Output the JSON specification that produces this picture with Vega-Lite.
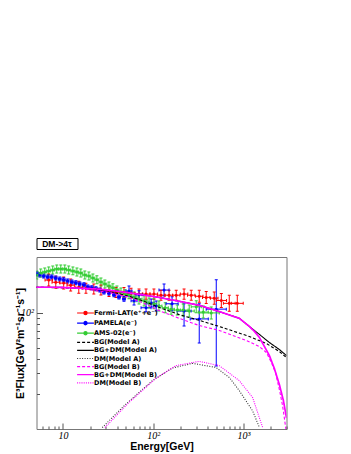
{
"$schema":"https://vega.github.io/schema/vega-lite/v6.json",
"padding":{"left":14.5,"top":237,"right":4,"bottom":4},
"background":"white",
"align":"none",
"spacing":6,
"config":{
  "font":"Liberation Sans",
  "axis":{"grid":false,"domain":false,"tickColor":"#555","tickWidth":1,"labelFont":"Liberation Serif","labelFontStyle":"italic","labelFontSize":10,"labelColor":"#000","titleFont":"Liberation Sans","titleFontWeight":"bold","titleColor":"#000","titleFontSize":10.5,"labelOverlap":false,"labelFlush":false}
},
"datasets":{
"exp":[
{"s":"Fermi-LAT(e⁺+e⁻)","E":6.97,"F":190,"El":6.34,"Eh":7.67,"Fl":168.7,"Fh":213.9},
{"s":"Fermi-LAT(e⁺+e⁻)","E":8.34,"F":182,"El":7.58,"Eh":9.17,"Fl":161.6,"Fh":204.9},
{"s":"Fermi-LAT(e⁺+e⁻)","E":10.2,"F":179,"El":9.27,"Eh":11.2,"Fl":159,"Fh":201.6},
{"s":"Fermi-LAT(e⁺+e⁻)","E":12.2,"F":172,"El":11.1,"Eh":13.4,"Fl":152.8,"Fh":193.7},
{"s":"Fermi-LAT(e⁺+e⁻)","E":15.0,"F":165,"El":13.6,"Eh":16.5,"Fl":146.5,"Fh":185.8},
{"s":"Fermi-LAT(e⁺+e⁻)","E":18.0,"F":162,"El":16.4,"Eh":19.8,"Fl":146.7,"Fh":178.8},
{"s":"Fermi-LAT(e⁺+e⁻)","E":22.0,"F":159,"El":20.0,"Eh":24.2,"Fl":144,"Fh":175.5},
{"s":"Fermi-LAT(e⁺+e⁻)","E":26.4,"F":156,"El":24.0,"Eh":29.0,"Fl":141.3,"Fh":172.2},
{"s":"Fermi-LAT(e⁺+e⁻)","E":32.4,"F":152,"El":29.5,"Eh":35.6,"Fl":137.7,"Fh":167.8},
{"s":"Fermi-LAT(e⁺+e⁻)","E":38.7,"F":149,"El":35.2,"Eh":42.6,"Fl":135,"Fh":164.5},
{"s":"Fermi-LAT(e⁺+e⁻)","E":47.5,"F":149,"El":43.2,"Eh":52.3,"Fl":135,"Fh":164.5},
{"s":"Fermi-LAT(e⁺+e⁻)","E":56.9,"F":146.5,"El":51.7,"Eh":62.6,"Fl":132.7,"Fh":161.7},
{"s":"Fermi-LAT(e⁺+e⁻)","E":69.7,"F":144,"El":63.4,"Eh":76.7,"Fl":130.4,"Fh":159},
{"s":"Fermi-LAT(e⁺+e⁻)","E":83.4,"F":144,"El":75.8,"Eh":91.7,"Fl":130.4,"Fh":159},
{"s":"Fermi-LAT(e⁺+e⁻)","E":102,"F":144,"El":92.7,"Eh":112,"Fl":130.4,"Fh":159},
{"s":"Fermi-LAT(e⁺+e⁻)","E":122,"F":141,"El":111,"Eh":134,"Fl":127.7,"Fh":155.7},
{"s":"Fermi-LAT(e⁺+e⁻)","E":150,"F":141,"El":136,"Eh":165,"Fl":127.7,"Fh":155.7},
{"s":"Fermi-LAT(e⁺+e⁻)","E":180,"F":141,"El":164,"Eh":198,"Fl":127.7,"Fh":155.7},
{"s":"Fermi-LAT(e⁺+e⁻)","E":220,"F":144,"El":200,"Eh":242,"Fl":130.4,"Fh":159},
{"s":"Fermi-LAT(e⁺+e⁻)","E":264,"F":141,"El":240,"Eh":290,"Fl":127.7,"Fh":155.7},
{"s":"Fermi-LAT(e⁺+e⁻)","E":324,"F":138,"El":295,"Eh":356,"Fl":122.6,"Fh":155.4},
{"s":"Fermi-LAT(e⁺+e⁻)","E":387,"F":135,"El":352,"Eh":426,"Fl":119.9,"Fh":152},
{"s":"Fermi-LAT(e⁺+e⁻)","E":475,"F":133,"El":432,"Eh":523,"Fl":118.1,"Fh":149.8},
{"s":"Fermi-LAT(e⁺+e⁻)","E":569,"F":127,"El":500,"Eh":650,"Fl":110.5,"Fh":145.9},
{"s":"Fermi-LAT(e⁺+e⁻)","E":697,"F":120,"El":600,"Eh":810,"Fl":102.4,"Fh":140.6},
{"s":"Fermi-LAT(e⁺+e⁻)","E":855,"F":120,"El":735,"Eh":995,"Fl":102.4,"Fh":140.6},
{"s":"PAMELA(e⁻)","E":5.13,"F":215,"El":4.96,"Eh":5.31,"Fl":206.7,"Fh":223.6},
{"s":"PAMELA(e⁻)","E":5.54,"F":210,"El":5.35,"Eh":5.73,"Fl":201.9,"Fh":218.4},
{"s":"PAMELA(e⁻)","E":6.13,"F":206,"El":5.92,"Eh":6.34,"Fl":198.1,"Fh":214.2},
{"s":"PAMELA(e⁻)","E":6.80,"F":202,"El":6.57,"Eh":7.04,"Fl":194.2,"Fh":210.1},
{"s":"PAMELA(e⁻)","E":7.53,"F":202,"El":7.28,"Eh":7.79,"Fl":194.2,"Fh":210.1},
{"s":"PAMELA(e⁻)","E":8.34,"F":198,"El":8.06,"Eh":8.63,"Fl":190.4,"Fh":205.9},
{"s":"PAMELA(e⁻)","E":9.24,"F":194,"El":8.93,"Eh":9.56,"Fl":186.5,"Fh":201.8},
{"s":"PAMELA(e⁻)","E":10.2,"F":191,"El":9.86,"Eh":10.6,"Fl":183.7,"Fh":198.6},
{"s":"PAMELA(e⁻)","E":11.3,"F":187,"El":10.9,"Eh":11.7,"Fl":179.8,"Fh":194.5},
{"s":"PAMELA(e⁻)","E":12.6,"F":183,"El":12.2,"Eh":13.0,"Fl":176,"Fh":190.3},
{"s":"PAMELA(e⁻)","E":13.9,"F":180,"El":13.4,"Eh":14.4,"Fl":173.1,"Fh":187.2},
{"s":"PAMELA(e⁻)","E":15.4,"F":176,"El":14.9,"Eh":15.9,"Fl":169.2,"Fh":183},
{"s":"PAMELA(e⁻)","E":17.1,"F":173,"El":16.5,"Eh":17.7,"Fl":166.3,"Fh":179.9},
{"s":"PAMELA(e⁻)","E":18.9,"F":166,"El":18.3,"Eh":19.6,"Fl":159.6,"Fh":172.6},
{"s":"PAMELA(e⁻)","E":20.9,"F":163,"El":20.2,"Eh":21.6,"Fl":156.7,"Fh":169.5},
{"s":"PAMELA(e⁻)","E":23.2,"F":160,"El":22.4,"Eh":24.0,"Fl":153.8,"Fh":166.4},
{"s":"PAMELA(e⁻)","E":25.7,"F":156,"El":24.8,"Eh":26.6,"Fl":150,"Fh":162.2},
{"s":"PAMELA(e⁻)","E":28.5,"F":150,"El":27.5,"Eh":29.5,"Fl":144.2,"Fh":156},
{"s":"PAMELA(e⁻)","E":32.4,"F":147,"El":31.3,"Eh":33.5,"Fl":141.3,"Fh":152.9},
{"s":"PAMELA(e⁻)","E":36.8,"F":142,"El":35.6,"Eh":38.1,"Fl":136.5,"Fh":147.7},
{"s":"PAMELA(e⁻)","E":41.8,"F":136,"El":40.4,"Eh":43.3,"Fl":130.8,"Fh":141.4},
{"s":"PAMELA(e⁻)","E":47.5,"F":131,"El":45.9,"Eh":49.2,"Fl":125,"Fh":137.3},
{"s":"PAMELA(e⁻)","E":54.0,"F":153,"El":50.0,"Eh":58.3,"Fl":138.6,"Fh":168.9},
{"s":"PAMELA(e⁻)","E":61.4,"F":126,"El":56.9,"Eh":66.3,"Fl":116.3,"Fh":136.5},
{"s":"PAMELA(e⁻)","E":69.7,"F":142,"El":64.5,"Eh":75.3,"Fl":131.1,"Fh":153.8},
{"s":"PAMELA(e⁻)","E":83.4,"F":110,"El":73.4,"Eh":94.8,"Fl":101.6,"Fh":119.1},
{"s":"PAMELA(e⁻)","E":94.9,"F":121,"El":87.9,"Eh":102.5,"Fl":111.7,"Fh":131},
{"s":"PAMELA(e⁻)","E":108,"F":114,"El":100,"Eh":116.6,"Fl":103.3,"Fh":125.9},
{"s":"PAMELA(e⁻)","E":132,"F":156,"El":116,"Eh":150,"Fl":138.5,"Fh":175.7},
{"s":"PAMELA(e⁻)","E":162,"F":119,"El":139,"Eh":189,"Fl":103.7,"Fh":136.6},
{"s":"PAMELA(e⁻)","E":220,"F":103,"El":184,"Eh":263,"Fl":76.7,"Fh":119},
{"s":"PAMELA(e⁻)","E":324,"F":88.2,"El":257,"Eh":408,"Fl":54.8,"Fh":119},
{"s":"PAMELA(e⁻)","E":500,"F":107,"El":387,"Eh":646,"Fl":34.8,"Fh":191},
{"s":"AMS-02(e⁻)","E":5.13,"F":210,"El":4.88,"Eh":5.40,"Fl":194.1,"Fh":227.2},
{"s":"AMS-02(e⁻)","E":5.68,"F":219,"El":5.40,"Eh":5.98,"Fl":202.4,"Fh":237},
{"s":"AMS-02(e⁻)","E":6.30,"F":223,"El":5.99,"Eh":6.63,"Fl":206.1,"Fh":241.3},
{"s":"AMS-02(e⁻)","E":6.97,"F":228,"El":6.63,"Eh":7.33,"Fl":210.7,"Fh":246.7},
{"s":"AMS-02(e⁻)","E":7.72,"F":232,"El":7.34,"Eh":8.12,"Fl":214.4,"Fh":251},
{"s":"AMS-02(e⁻)","E":8.55,"F":237,"El":8.13,"Eh":8.99,"Fl":219,"Fh":256.4},
{"s":"AMS-02(e⁻)","E":9.48,"F":237,"El":9.01,"Eh":9.97,"Fl":219,"Fh":256.4},
{"s":"AMS-02(e⁻)","E":10.5,"F":237,"El":9.98,"Eh":11.0,"Fl":219,"Fh":256.4},
{"s":"AMS-02(e⁻)","E":11.6,"F":232,"El":11.0,"Eh":12.2,"Fl":214.4,"Fh":251},
{"s":"AMS-02(e⁻)","E":12.9,"F":228,"El":12.3,"Eh":13.6,"Fl":210.7,"Fh":246.7},
{"s":"AMS-02(e⁻)","E":14.3,"F":223,"El":13.6,"Eh":15.0,"Fl":206.1,"Fh":241.3},
{"s":"AMS-02(e⁻)","E":15.8,"F":219,"El":15.0,"Eh":16.6,"Fl":202.4,"Fh":237},
{"s":"AMS-02(e⁻)","E":17.5,"F":210,"El":16.6,"Eh":18.4,"Fl":194.1,"Fh":227.2},
{"s":"AMS-02(e⁻)","E":19.4,"F":206,"El":18.4,"Eh":20.4,"Fl":190.4,"Fh":222.9},
{"s":"AMS-02(e⁻)","E":21.5,"F":198,"El":20.4,"Eh":22.6,"Fl":183,"Fh":214.2},
{"s":"AMS-02(e⁻)","E":23.8,"F":191,"El":22.6,"Eh":25.0,"Fl":176.5,"Fh":206.7},
{"s":"AMS-02(e⁻)","E":26.4,"F":183,"El":25.1,"Eh":27.8,"Fl":169.1,"Fh":198},
{"s":"AMS-02(e⁻)","E":29.2,"F":176,"El":27.8,"Eh":30.7,"Fl":162.7,"Fh":190.4},
{"s":"AMS-02(e⁻)","E":32.4,"F":169,"El":30.8,"Eh":34.1,"Fl":156.2,"Fh":182.9},
{"s":"AMS-02(e⁻)","E":35.8,"F":163,"El":34.0,"Eh":37.7,"Fl":150.6,"Fh":176.4},
{"s":"AMS-02(e⁻)","E":39.7,"F":156,"El":37.7,"Eh":41.8,"Fl":144.2,"Fh":168.8},
{"s":"AMS-02(e⁻)","E":44.0,"F":150,"El":41.8,"Eh":46.3,"Fl":138.6,"Fh":162.3},
{"s":"AMS-02(e⁻)","E":48.7,"F":145,"El":46.3,"Eh":51.2,"Fl":134,"Fh":156.9},
{"s":"AMS-02(e⁻)","E":54.0,"F":142,"El":50.0,"Eh":58.3,"Fl":131.2,"Fh":153.6},
{"s":"AMS-02(e⁻)","E":61.4,"F":136,"El":56.9,"Eh":66.3,"Fl":123.2,"Fh":150.1},
{"s":"AMS-02(e⁻)","E":69.7,"F":131,"El":64.5,"Eh":75.3,"Fl":118.7,"Fh":144.6},
{"s":"AMS-02(e⁻)","E":79.3,"F":126,"El":73.4,"Eh":85.6,"Fl":114.1,"Fh":139.1},
{"s":"AMS-02(e⁻)","E":90.1,"F":121,"El":83.4,"Eh":97.3,"Fl":109.6,"Fh":133.6},
{"s":"AMS-02(e⁻)","E":102,"F":119,"El":94.4,"Eh":110,"Fl":107.8,"Fh":131.4},
{"s":"AMS-02(e⁻)","E":116,"F":114,"El":107,"Eh":125,"Fl":103.3,"Fh":125.9},
{"s":"AMS-02(e⁻)","E":136,"F":110,"El":126,"Eh":147,"Fl":99.6,"Fh":121.4},
{"s":"AMS-02(e⁻)","E":158,"F":107,"El":146,"Eh":171,"Fl":96.9,"Fh":118.1},
{"s":"AMS-02(e⁻)","E":185,"F":105,"El":171,"Eh":200,"Fl":95.1,"Fh":115.9},
{"s":"AMS-02(e⁻)","E":215,"F":105,"El":189,"Eh":244,"Fl":93.3,"Fh":118.2},
{"s":"AMS-02(e⁻)","E":251,"F":103,"El":221,"Eh":285,"Fl":91.5,"Fh":116},
{"s":"AMS-02(e⁻)","E":300,"F":112,"El":264,"Eh":341,"Fl":99.5,"Fh":126.1},
{"s":"AMS-02(e⁻)","E":359,"F":101,"El":316,"Eh":408,"Fl":89.7,"Fh":113.7},
{"s":"AMS-02(e⁻)","E":440,"F":99.3,"El":324,"Eh":540,"Fl":88.2,"Fh":111.8}
],
"model":[
{"s":"BG+DM(Model A)","E":5,"F":165},{"s":"BG+DM(Model A)","E":9,"F":165},{"s":"BG+DM(Model A)","E":15,"F":162},{"s":"BG+DM(Model A)","E":25,"F":159},{"s":"BG+DM(Model A)","E":41.8,"F":152},{"s":"BG+DM(Model A)","E":69.7,"F":143.5},{"s":"BG+DM(Model A)","E":116,"F":135},{"s":"BG+DM(Model A)","E":194,"F":125},{"s":"BG+DM(Model A)","E":324,"F":115.4},{"s":"BG+DM(Model A)","E":540,"F":102},{"s":"BG+DM(Model A)","E":901,"F":89.2},{"s":"BG+DM(Model A)","E":1163,"F":76},{"s":"BG+DM(Model A)","E":1503,"F":64.9},{"s":"BG+DM(Model A)","E":1941,"F":55.3},{"s":"BG+DM(Model A)","E":2504,"F":48.1},{"s":"BG+DM(Model A)","E":3000,"F":42.7},
{"s":"BG+DM(Model B)","E":5,"F":165},{"s":"BG+DM(Model B)","E":9,"F":165},{"s":"BG+DM(Model B)","E":15,"F":162},{"s":"BG+DM(Model B)","E":25,"F":159},{"s":"BG+DM(Model B)","E":41.8,"F":152},{"s":"BG+DM(Model B)","E":69.7,"F":143.5},{"s":"BG+DM(Model B)","E":116,"F":135},{"s":"BG+DM(Model B)","E":194,"F":125},{"s":"BG+DM(Model B)","E":324,"F":115.4},{"s":"BG+DM(Model B)","E":540,"F":102},{"s":"BG+DM(Model B)","E":901,"F":89.2},{"s":"BG+DM(Model B)","E":1163,"F":76},{"s":"BG+DM(Model B)","E":1322,"F":68.9},{"s":"BG+DM(Model B)","E":1503,"F":61.1},{"s":"BG+DM(Model B)","E":1708,"F":51.1},{"s":"BG+DM(Model B)","E":1941,"F":42.7},{"s":"BG+DM(Model B)","E":2203,"F":33},{"s":"BG+DM(Model B)","E":2504,"F":24},{"s":"BG+DM(Model B)","E":2775,"F":17.5},{"s":"BG+DM(Model B)","E":3000,"F":12.4},
{"s":"BG(Model A)","E":5,"F":165},{"s":"BG(Model A)","E":15,"F":162},{"s":"BG(Model A)","E":32.4,"F":152},{"s":"BG(Model A)","E":54,"F":138},{"s":"BG(Model A)","E":79.3,"F":125},{"s":"BG(Model A)","E":116,"F":111},{"s":"BG(Model A)","E":194,"F":96},{"s":"BG(Model A)","E":324,"F":85.7},{"s":"BG(Model A)","E":540,"F":76},{"s":"BG(Model A)","E":1163,"F":62.3},{"s":"BG(Model A)","E":1798,"F":54.2},{"s":"BG(Model A)","E":2504,"F":46.2},{"s":"BG(Model A)","E":3000,"F":41},
{"s":"BG(Model B)","E":5,"F":165},{"s":"BG(Model B)","E":15,"F":162},{"s":"BG(Model B)","E":32.4,"F":149},{"s":"BG(Model B)","E":54,"F":135},{"s":"BG(Model B)","E":79.3,"F":120},{"s":"BG(Model B)","E":116,"F":104},{"s":"BG(Model B)","E":194,"F":89.2},{"s":"BG(Model B)","E":324,"F":77.4},{"s":"BG(Model B)","E":540,"F":70.2},{"s":"BG(Model B)","E":1077,"F":57.5},{"s":"BG(Model B)","E":1503,"F":51.1},{"s":"BG(Model B)","E":1798,"F":45.3},{"s":"BG(Model B)","E":2043,"F":37.2},{"s":"BG(Model B)","E":2265,"F":30.5},{"s":"BG(Model B)","E":2504,"F":21.7},{"s":"BG(Model B)","E":2705,"F":16.1},{"s":"BG(Model B)","E":2849,"F":12.2},{"s":"BG(Model B)","E":3000,"F":9.2},
{"s":"DM(Model A)","E":27.3,"F":10.3},{"s":"DM(Model A)","E":49.7,"F":16.3},{"s":"DM(Model A)","E":97.9,"F":26},{"s":"DM(Model A)","E":163,"F":33.4},{"s":"DM(Model A)","E":273,"F":36.6},{"s":"DM(Model A)","E":497,"F":33.8},{"s":"DM(Model A)","E":697,"F":27.7},{"s":"DM(Model A)","E":901,"F":21.3},{"s":"DM(Model A)","E":1265,"F":14.3},{"s":"DM(Model A)","E":1503,"F":10.3},
{"s":"DM(Model B)","E":29.2,"F":10.3},{"s":"DM(Model B)","E":54,"F":16.9},{"s":"DM(Model B)","E":107,"F":27.2},{"s":"DM(Model B)","E":178,"F":35},{"s":"DM(Model B)","E":324,"F":38.1},{"s":"DM(Model B)","E":540,"F":35},{"s":"DM(Model B)","E":901,"F":26},{"s":"DM(Model B)","E":1265,"F":18.6},{"s":"DM(Model B)","E":1633,"F":10.3}
]
},
"vconcat":[
{"width":41,"height":11,"view":{"stroke":"#000","strokeWidth":1},
 "data":{"values":[{"label":"DM->4τ"}]},
 "mark":{"type":"text","font":"Liberation Sans","fontWeight":"bold","fontSize":8.5,"color":"#000"},
 "encoding":{"text":{"field":"label","type":"nominal"}}},
{"width":250,"height":172,"view":{"stroke":"#777","strokeWidth":1},
 "layer":[
  {"data":{"name":"exp"},"mark":{"type":"point","filled":true,"size":0,"opacity":1,"clip":true},
   "encoding":{
    "x":{"field":"E","type":"quantitative","scale":{"type":"log","domain":[5.1,3000],"nice":false},
         "axis":{"values":[6,7,8,9,10,20,30,40,50,60,70,80,90,100,200,300,400,500,600,700,800,900,1000,2000,3000],
                 "labelExpr":"datum.value==10?'10':datum.value==100?'10²':datum.value==1000?'10³':''",
                 "tickSize":{"condition":{"test":"datum.value==10||datum.value==100||datum.value==1000","value":-6},"value":-3},
                 "labelPadding":7,"title":"Energy[GeV]","titlePadding":-2}},
    "y":{"field":"F","type":"quantitative","scale":{"type":"log","domain":[10,300],"nice":false},
         "axis":{"values":[20,30,40,50,60,70,80,90,100],
                 "labelExpr":"datum.value==100?'10²':''",
                 "tickSize":{"condition":{"test":"datum.value==100","value":-6},"value":-3},
                 "labelPadding":9,"title":"E³Flux[GeV²m⁻¹sr⁻¹s⁻¹]","titlePadding":-4.5}},
    "color":{"field":"s","type":"nominal",
      "scale":{"domain":["Fermi-LAT(e⁺+e⁻)","PAMELA(e⁻)","AMS-02(e⁻)","BG(Model A)","BG+DM(Model A)","DM(Model A)","BG(Model B)","BG+DM(Model B)","DM(Model B)"],"range":["#ff0000","#0000ff","#33cc33","#000000","#000000","#333333","#ff00ff","#ff00ff","#ff00ff"]},
      "legend":{"orient":"none","legendX":45,"legendY":71,"title":null,"padding":0,"labelFont":"DejaVu Sans","labelFontSize":6.5,"labelFontWeight":"bold","labelColor":"#000","labelOffset":4.5,"symbolSize":36,"symbolStrokeWidth":1.2,"rowPadding":0.1,"labelLimit":200,
        "encode":{"symbols":{"update":{"stroke":{"scale":"color","field":"value"},"opacity":{"value":1}}}}}},
    "shape":{"field":"s","type":"nominal","scale":{"domain":["Fermi-LAT(e⁺+e⁻)","PAMELA(e⁻)","AMS-02(e⁻)","BG(Model A)","BG+DM(Model A)","DM(Model A)","BG(Model B)","BG+DM(Model B)","DM(Model B)"],
      "range":["M-2.8,0H2.8M-0.55,0L-0.39,-0.39L0,-0.55L0.39,-0.39L0.55,0L0.39,0.39L0,0.55L-0.39,0.39Z","M-2.8,0H2.8M-0.55,0L-0.39,-0.39L0,-0.55L0.39,-0.39L0.55,0L0.39,0.39L0,0.55L-0.39,0.39Z","M-2.8,0H2.8M-0.55,0L-0.39,-0.39L0,-0.55L0.39,-0.39L0.55,0L0.39,0.39L0,0.55L-0.39,0.39Z","M-2.8,0H2.8","M-2.8,0H2.8","M-2.8,0H2.8","M-2.8,0H2.8","M-2.8,0H2.8","M-2.8,0H2.8"]}},
    "strokeDash":{"field":"s","type":"nominal","scale":{"domain":["Fermi-LAT(e⁺+e⁻)","PAMELA(e⁻)","AMS-02(e⁻)","BG(Model A)","BG+DM(Model A)","DM(Model A)","BG(Model B)","BG+DM(Model B)","DM(Model B)"],"range":[[1,0],[1,0],[1,0],[3,2],[1,0],[1,1.5],[3,2],[1,0],[1,1.2]]}}}},
  {"data":{"name":"exp"},"mark":{"type":"rule","clip":true,"strokeWidth":1},
   "encoding":{
    "x":{"field":"E","type":"quantitative","scale":{"type":"log","domain":[5.1,3000],"nice":false},"title":"Energy[GeV]"},
    "y":{"field":"Fl","type":"quantitative","scale":{"type":"log","domain":[10,300],"nice":false},"title":"E³Flux[GeV²m⁻¹sr⁻¹s⁻¹]"},
    "y2":{"field":"Fh"},
    "color":{"field":"s","type":"nominal"}}},
  {"data":{"name":"exp"},"mark":{"type":"rule","clip":true,"strokeWidth":1},
   "encoding":{
    "x":{"field":"El","type":"quantitative","scale":{"type":"log","domain":[5.1,3000],"nice":false},"title":"Energy[GeV]"},
    "x2":{"field":"Eh"},
    "y":{"field":"F","type":"quantitative","scale":{"type":"log","domain":[10,300],"nice":false},"title":"E³Flux[GeV²m⁻¹sr⁻¹s⁻¹]"},
    "color":{"field":"s","type":"nominal"}}},
  {"data":{"name":"exp"},"mark":{"type":"tick","clip":true,"orient":"horizontal","size":3,"thickness":1,"opacity":1},
   "encoding":{
    "x":{"field":"E","type":"quantitative","scale":{"type":"log","domain":[5.1,3000],"nice":false},"title":"Energy[GeV]"},
    "y":{"field":"Fl","type":"quantitative","scale":{"type":"log","domain":[10,300],"nice":false},"title":"E³Flux[GeV²m⁻¹sr⁻¹s⁻¹]"},
    "color":{"field":"s","type":"nominal"}}},
  {"data":{"name":"exp"},"mark":{"type":"tick","clip":true,"orient":"horizontal","size":3,"thickness":1,"opacity":1},
   "encoding":{
    "x":{"field":"E","type":"quantitative","scale":{"type":"log","domain":[5.1,3000],"nice":false},"title":"Energy[GeV]"},
    "y":{"field":"Fh","type":"quantitative","scale":{"type":"log","domain":[10,300],"nice":false},"title":"E³Flux[GeV²m⁻¹sr⁻¹s⁻¹]"},
    "color":{"field":"s","type":"nominal"}}},
  {"data":{"name":"exp"},"mark":{"type":"tick","clip":true,"orient":"vertical","size":3,"thickness":1,"opacity":1},
   "encoding":{
    "x":{"field":"El","type":"quantitative","scale":{"type":"log","domain":[5.1,3000],"nice":false},"title":"Energy[GeV]"},
    "y":{"field":"F","type":"quantitative","scale":{"type":"log","domain":[10,300],"nice":false},"title":"E³Flux[GeV²m⁻¹sr⁻¹s⁻¹]"},
    "color":{"field":"s","type":"nominal"}}},
  {"data":{"name":"exp"},"mark":{"type":"tick","clip":true,"orient":"vertical","size":3,"thickness":1,"opacity":1},
   "encoding":{
    "x":{"field":"Eh","type":"quantitative","scale":{"type":"log","domain":[5.1,3000],"nice":false},"title":"Energy[GeV]"},
    "y":{"field":"F","type":"quantitative","scale":{"type":"log","domain":[10,300],"nice":false},"title":"E³Flux[GeV²m⁻¹sr⁻¹s⁻¹]"},
    "color":{"field":"s","type":"nominal"}}},
  {"data":{"name":"exp"},"mark":{"type":"point","clip":true,"filled":true,"size":9,"opacity":1,"shape":"circle"},
   "encoding":{
    "x":{"field":"E","type":"quantitative","scale":{"type":"log","domain":[5.1,3000],"nice":false},"title":"Energy[GeV]"},
    "y":{"field":"F","type":"quantitative","scale":{"type":"log","domain":[10,300],"nice":false},"title":"E³Flux[GeV²m⁻¹sr⁻¹s⁻¹]"},
    "color":{"field":"s","type":"nominal"}}},
  {"data":{"name":"model"},"transform":[{"filter":"datum.s != 'BG+DM(Model B)'"}],
   "mark":{"type":"line","clip":true,"strokeWidth":1.1},
   "encoding":{
    "x":{"field":"E","type":"quantitative","scale":{"type":"log","domain":[5.1,3000],"nice":false},"title":"Energy[GeV]"},
    "y":{"field":"F","type":"quantitative","scale":{"type":"log","domain":[10,300],"nice":false},"title":"E³Flux[GeV²m⁻¹sr⁻¹s⁻¹]"},
    "color":{"field":"s","type":"nominal"},
    "strokeDash":{"field":"s","type":"nominal"}}},
  {"data":{"name":"model"},"transform":[{"filter":"datum.s == 'BG+DM(Model B)'"}],
   "mark":{"type":"line","clip":true,"strokeWidth":1.7},
   "encoding":{
    "x":{"field":"E","type":"quantitative","scale":{"type":"log","domain":[5.1,3000],"nice":false},"title":"Energy[GeV]"},
    "y":{"field":"F","type":"quantitative","scale":{"type":"log","domain":[10,300],"nice":false},"title":"E³Flux[GeV²m⁻¹sr⁻¹s⁻¹]"},
    "color":{"field":"s","type":"nominal"},
    "strokeDash":{"field":"s","type":"nominal"}}}
 ]}
]
}
